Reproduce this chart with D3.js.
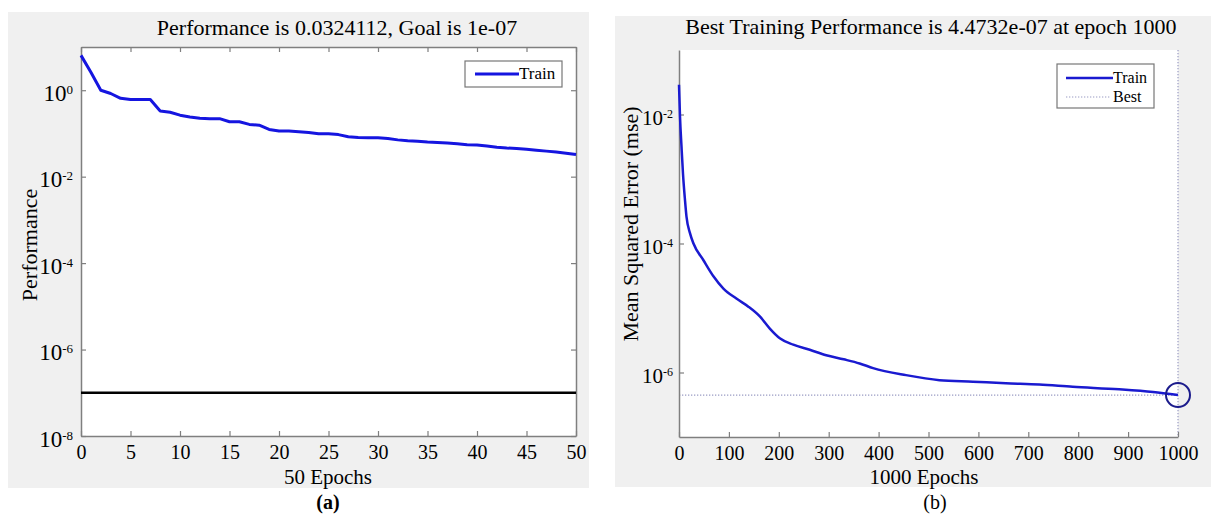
<!DOCTYPE html>
<html>
<head>
<meta charset="utf-8">
<script src="https://cdn.jsdelivr.net/npm/d3@7"></script>
<style>
  body { margin: 0; background: #fff; }
  svg text { font-family: "Liberation Serif", "Times New Roman", serif; fill: #000; }
</style>
</head>
<body>
<svg id="chart" width="1211" height="514"></svg>
<script>
// ---- panel (a): 50 epochs ----
var epochsA = [0, 1, 2, 3, 4, 5, 6, 7, 8, 9, 10, 11, 12, 13, 14, 15, 16, 17, 18, 19, 20,
  21, 22, 23, 24, 25, 26, 27, 28, 29, 30, 31, 32, 33, 34, 35, 36, 37, 38, 39, 40,
  41, 42, 43, 44, 45, 46, 47, 48, 49, 50];
var trainA = [6.4, 2.6, 1.0, 0.84, 0.65, 0.61, 0.61, 0.61, 0.33, 0.31, 0.265,
  0.24, 0.226, 0.22, 0.22, 0.186, 0.186, 0.162, 0.155, 0.124, 0.114,
  0.114, 0.11, 0.105, 0.098, 0.098, 0.094, 0.084, 0.081, 0.08, 0.079,
  0.076, 0.071, 0.068, 0.066, 0.063, 0.062, 0.06, 0.058, 0.055, 0.054,
  0.051, 0.048, 0.046, 0.045, 0.043, 0.041, 0.039, 0.037, 0.035, 0.0324112];
var goalA = 1e-7;
var xTicksA = [0, 5, 10, 15, 20, 25, 30, 35, 40, 45, 50];
var yTicksA = [1e0, 1e-2, 1e-4, 1e-6, 1e-8];

// ---- panel (b): 1000 epochs ----
var epochsB = [0, 2, 5, 8, 12, 15, 22, 29, 49, 69, 89, 115, 139, 162, 182, 202, 229,
  262, 295, 330, 362, 389, 455, 522, 589, 655, 722, 789, 882, 950, 1000];
var trainB = [2.9e-2, 9.3e-3, 3.2e-3, 1.2e-3, 4.7e-4, 2.6e-4, 1.45e-4, 1.0e-4, 5.5e-5,
  3.1e-5, 2.0e-5, 1.4e-5, 1.05e-5, 7.4e-6, 4.8e-6, 3.4e-6, 2.7e-6, 2.25e-6, 1.85e-6,
  1.6e-6, 1.38e-6, 1.17e-6, 9.1e-7, 7.6e-7, 7.2e-7, 6.8e-7, 6.5e-7, 6.0e-7, 5.5e-7,
  5.0e-7, 4.4732e-7];
var bestEpochB = 1000;
var bestB = 4.4732e-7;
var xTicksB = [0, 100, 200, 300, 400, 500, 600, 700, 800, 900, 1000];
var yTicksB = [1e-2, 1e-4, 1e-6];

var svg = d3.select("#chart");
var axisColor = "#7f7f7f";

// "10" with a small raised exponent
function powLabel(sel, size, supSize) {
  sel.each(function(d) {
    var t = d3.select(this).text(null)
      .attr("dy", null).attr("y", 10)
      .style("font-size", size + "px");
    t.append("tspan").text("10");
    t.append("tspan").text(Math.round(Math.log10(d)))
      .attr("dy", -7).style("font-size", supSize + "px");
  });
}

function styleAxis(g) {
  g.select(".domain").attr("stroke", axisColor).attr("stroke-width", 1.5);
  g.selectAll(".tick line").attr("stroke", axisColor).attr("stroke-width", 1.2);
}

// ================= panel (a) =================
var a = { left: 81, right: 576, top: 47, bottom: 436 };

svg.append("rect").attr("x", 8).attr("y", 12).attr("width", 581).attr("height", 476)
  .attr("fill", "#f0f0f0");
svg.append("rect").attr("x", a.left).attr("y", a.top)
  .attr("width", a.right - a.left).attr("height", a.bottom - a.top).attr("fill", "#fff");

var xA = d3.scaleLinear().domain([0, 50]).range([a.left, a.right]);
var yA = d3.scaleLog().domain([1e-8, 1e1]).range([a.bottom, a.top]);

var gxA = svg.append("g").attr("transform", `translate(0,${a.bottom})`)
  .call(d3.axisBottom(xA).tickValues(xTicksA).tickFormat(d3.format("d"))
    .tickSizeInner(-5).tickSizeOuter(0).tickPadding(9));
gxA.selectAll("text").style("font-size", "20px");
styleAxis(gxA);

var gtA = svg.append("g").attr("transform", `translate(0,${a.top})`)
  .call(d3.axisTop(xA).tickValues(xTicksA).tickSizeInner(-5).tickSizeOuter(0).tickFormat(""));
styleAxis(gtA);

var gyA = svg.append("g").attr("transform", `translate(${a.left},0)`)
  .call(d3.axisLeft(yA).tickValues(yTicksA).tickSizeInner(-5).tickSizeOuter(0).tickPadding(8));
gyA.selectAll("text").call(powLabel, 23, 13);
styleAxis(gyA);

var grA = svg.append("g").attr("transform", `translate(${a.right},0)`)
  .call(d3.axisRight(yA).tickValues(yTicksA).tickSizeInner(-5).tickSizeOuter(0).tickFormat(""));
styleAxis(grA);

// goal line
svg.append("line")
  .attr("x1", xA(0)).attr("x2", xA(50))
  .attr("y1", yA(goalA)).attr("y2", yA(goalA))
  .attr("stroke", "#000").attr("stroke-width", 2.5);

// train line
var lineA = d3.line().x((d, i) => xA(epochsA[i])).y(d => yA(d));
svg.append("path").datum(trainA)
  .attr("d", lineA)
  .attr("fill", "none").attr("stroke", "#1515e0").attr("stroke-width", 3)
  .attr("stroke-linejoin", "round");

// legend
svg.append("rect").attr("x", 465).attr("y", 61).attr("width", 97).attr("height", 26)
  .attr("fill", "#fff").attr("stroke", "#777").attr("stroke-width", 1.2);
svg.append("line").attr("x1", 475).attr("x2", 519).attr("y1", 74).attr("y2", 74)
  .attr("stroke", "#1515e0").attr("stroke-width", 3);
svg.append("text").attr("x", 519).attr("y", 79).style("font-size", "17px").text("Train");

svg.append("text").attr("x", 337).attr("y", 35).attr("text-anchor", "middle")
  .style("font-size", "22px").text("Performance is 0.0324112, Goal is 1e-07");
svg.append("text").attr("x", 328).attr("y", 484).attr("text-anchor", "middle")
  .style("font-size", "21px").text("50 Epochs");
svg.append("text").attr("transform", "translate(37,245) rotate(-90)")
  .attr("text-anchor", "middle").style("font-size", "22px").text("Performance");
svg.append("text").attr("x", 328).attr("y", 509).attr("text-anchor", "middle")
  .style("font-size", "20px").style("font-weight", "bold").text("(a)");

// ================= panel (b) =================
var b = { left: 679, right: 1178, top: 50, bottom: 437 };

svg.append("rect").attr("x", 615).attr("y", 16).attr("width", 596).attr("height", 471)
  .attr("fill", "#f0f0f0");
svg.append("rect").attr("x", b.left).attr("y", b.top)
  .attr("width", b.right - b.left).attr("height", b.bottom - b.top).attr("fill", "#fff");

var xB = d3.scaleLinear().domain([0, 1000]).range([b.left, b.right]);
var yB = d3.scaleLog().domain([1e-7, 1e-1]).range([b.bottom, b.top]);

// best markers (dotted)
svg.append("line")
  .attr("x1", xB(bestEpochB)).attr("x2", xB(bestEpochB))
  .attr("y1", b.top).attr("y2", b.bottom)
  .attr("stroke", "#9a9cc4").attr("stroke-width", 1.2).attr("stroke-dasharray", "1.3,1.7");
svg.append("line")
  .attr("x1", xB(0)).attr("x2", xB(bestEpochB))
  .attr("y1", yB(bestB)).attr("y2", yB(bestB))
  .attr("stroke", "#9a9cc4").attr("stroke-width", 1.2).attr("stroke-dasharray", "1.3,1.7");

var gxB = svg.append("g").attr("transform", `translate(0,${b.bottom})`)
  .call(d3.axisBottom(xB).tickValues(xTicksB).tickFormat(d3.format("d"))
    .tickSizeInner(-5).tickSizeOuter(0).tickPadding(9));
gxB.selectAll("text").style("font-size", "20px");
styleAxis(gxB);

var gyB = svg.append("g").attr("transform", `translate(${b.left},0)`)
  .call(d3.axisLeft(yB).tickValues(yTicksB).tickSizeInner(-5).tickSizeOuter(0).tickPadding(6));
gyB.selectAll("text").call(powLabel, 21, 12);
styleAxis(gyB);

var lineB = d3.line().x((d, i) => xB(epochsB[i])).y(d => yB(d)).curve(d3.curveMonotoneX);
svg.append("path").datum(trainB)
  .attr("d", lineB)
  .attr("fill", "none").attr("stroke", "#1a1ad0").attr("stroke-width", 2.5);

svg.append("circle")
  .attr("cx", xB(bestEpochB)).attr("cy", yB(bestB)).attr("r", 12)
  .attr("fill", "none").attr("stroke", "#1c1c8c").attr("stroke-width", 2);

// legend
svg.append("rect").attr("x", 1057).attr("y", 64).attr("width", 97).attr("height", 44)
  .attr("fill", "#fff").attr("stroke", "#777").attr("stroke-width", 1.2);
svg.append("line").attr("x1", 1066).attr("x2", 1113).attr("y1", 78).attr("y2", 78)
  .attr("stroke", "#1a1ad0").attr("stroke-width", 2.5);
svg.append("text").attr("x", 1113).attr("y", 83).style("font-size", "16px").text("Train");
svg.append("line").attr("x1", 1066).attr("x2", 1110).attr("y1", 97).attr("y2", 97)
  .attr("stroke", "#9a9cc4").attr("stroke-width", 1.2).attr("stroke-dasharray", "1.3,1.7");
svg.append("text").attr("x", 1113).attr("y", 102).style("font-size", "16px").text("Best");

svg.append("text").attr("x", 931).attr("y", 34).attr("text-anchor", "middle")
  .style("font-size", "22px").text("Best Training Performance is 4.4732e-07 at epoch 1000");
svg.append("text").attr("x", 924).attr("y", 484).attr("text-anchor", "middle")
  .style("font-size", "21px").text("1000 Epochs");
svg.append("text").attr("transform", "translate(638,224) rotate(-90)")
  .attr("text-anchor", "middle").style("font-size", "22px").text("Mean Squared Error (mse)");
svg.append("text").attr("x", 935).attr("y", 509).attr("text-anchor", "middle")
  .style("font-size", "20px").text("(b)");
</script>
</body>
</html>
